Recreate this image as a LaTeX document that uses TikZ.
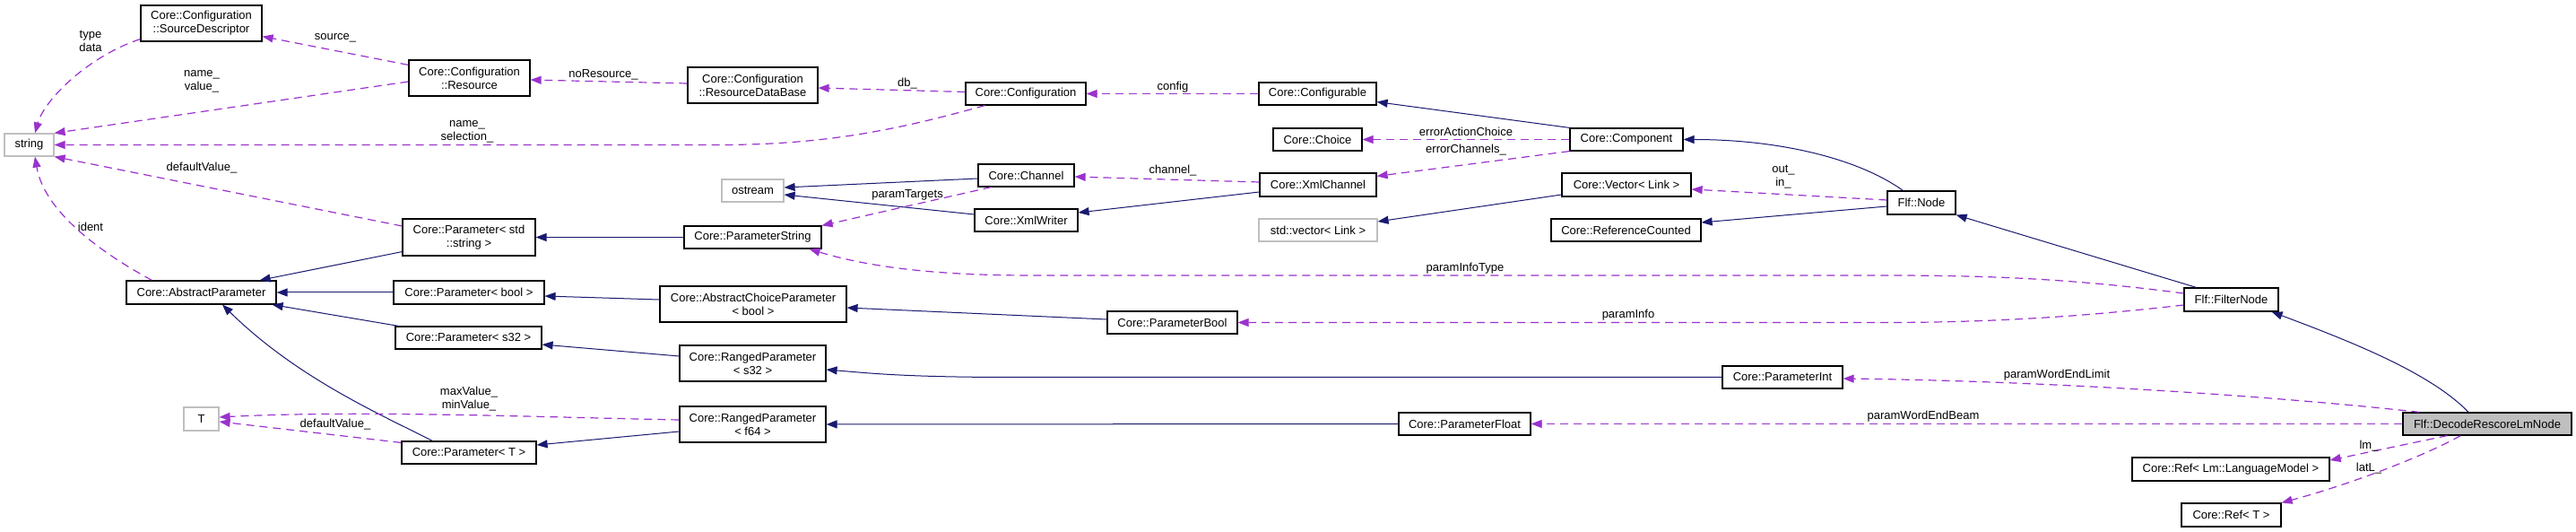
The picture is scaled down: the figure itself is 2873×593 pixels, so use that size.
\documentclass[tikz,border=0pt]{standalone}
\usepackage{fontspec}
\setmainfont{Liberation Sans}
\usetikzlibrary{arrows.meta}
\definecolor{navy}{RGB}{25,25,112}
\definecolor{orchid}{RGB}{154,50,205}
\definecolor{extgray}{RGB}{191,191,191}
\begin{document}
\begin{tikzpicture}[x=1pt,y=-1pt,
  box/.style={draw=black, fill=white, line width=1.2pt, inner sep=0pt, align=center, font=\fontsize{13}{15}\selectfont},
  ext/.style={box, draw=extgray},
  cur/.style={box, fill=extgray},
  lbl/.style={inner sep=0pt, align=center, font=\fontsize{13}{15}\selectfont},
  inh/.style={draw=navy, line width=1pt, -{Triangle[length=12pt,width=9pt]}},
  use/.style={draw=orchid, line width=1.2pt, dash pattern=on 9pt off 6pt, -{Triangle[length=12pt,width=9pt]}}]
\fill[white] (0,0) rectangle (2873,593);
\useasboundingbox (0,0) rectangle (2873,593);

% nodes
\node[ext, minimum width=55pt, minimum height=25pt] (str) at (32.5,161.5) {string};
\node[box, minimum width=135pt, minimum height=40pt] (sd) at (224.5,26) {Core::Configuration\\::SourceDescriptor};
\node[box, minimum width=135pt, minimum height=40pt] (res) at (523.5,87) {Core::Configuration\\::Resource};
\node[box, minimum width=145pt, minimum height=40pt] (rdb) at (839.5,95) {Core::Configuration\\::ResourceDataBase};
\node[box, minimum width=134pt, minimum height=25pt] (conf) at (1144,104.5) {Core::Configuration};
\node[box, minimum width=131pt, minimum height=25pt] (cfg) at (1469.5,104.5) {Core::Configurable};
\node[box, minimum width=99pt, minimum height=25pt] (choice) at (1469.5,155.5) {Core::Choice};
\node[box, minimum width=126pt, minimum height=25pt] (comp) at (1814,155.5) {Core::Component};
\node[box, minimum width=130pt, minimum height=26pt] (xmlch) at (1470,206) {Core::XmlChannel};
\node[box, minimum width=144pt, minimum height=26pt] (vec) at (1814,206) {Core::Vector< Link >};
\node[ext, minimum width=132pt, minimum height=25pt] (stdvec) at (1470,256.5) {std::vector< Link >};
\node[box, minimum width=167pt, minimum height=25pt] (refc) at (1813.5,256.5) {Core::ReferenceCounted};
\node[box, minimum width=76pt, minimum height=26pt] (fnode) at (2143,226) {Flf::Node};
\node[box, minimum width=107pt, minimum height=25pt] (channel) at (1144.5,195.5) {Core::Channel};
\node[ext, minimum width=69pt, minimum height=25pt] (ostream) at (839.5,212.5) {ostream};
\node[box, minimum width=115pt, minimum height=25pt] (xw) at (1144.5,245.5) {Core::XmlWriter};
\node[box, minimum width=153pt, minimum height=25pt] (ps) at (839.5,264.5) {Core::ParameterString};
\node[box, minimum width=148pt, minimum height=41pt] (pstr) at (523,264.5) {Core::Parameter< std\\::string >};
\node[box, minimum width=167pt, minimum height=26pt] (ap) at (224.5,326) {Core::AbstractParameter};
\node[box, minimum width=168pt, minimum height=26pt] (pb) at (523,326) {Core::Parameter< bool >};
\node[box, minimum width=163pt, minimum height=25pt] (ps32) at (522.5,376.5) {Core::Parameter< s32 >};
\node[ext, minimum width=39pt, minimum height=26pt] (T) at (224.5,467) {T};
\node[box, minimum width=150pt, minimum height=25pt] (pT) at (523,504.5) {Core::Parameter< T >};
\node[box, minimum width=208pt, minimum height=40pt] (acp) at (840,339) {Core::AbstractChoiceParameter\\< bool >};
\node[box, minimum width=145pt, minimum height=25pt] (pbool) at (1307.5,359.5) {Core::ParameterBool};
\node[box, minimum width=163pt, minimum height=40pt] (rp32) at (839.5,405) {Core::RangedParameter\\< s32 >};
\node[box, minimum width=163pt, minimum height=40pt] (rpf) at (839.5,473) {Core::RangedParameter\\< f64 >};
\node[box, minimum width=134pt, minimum height=25pt] (pint) at (1988,420.5) {Core::ParameterInt};
\node[box, minimum width=147pt, minimum height=25pt] (pf) at (1633.5,472.5) {Core::ParameterFloat};
\node[box, minimum width=105pt, minimum height=26pt] (fn) at (2488.5,334) {Flf::FilterNode};
\node[cur, minimum width=188pt, minimum height=25pt] (drln) at (2774,472.5) {Flf::DecodeRescoreLmNode};
\node[box, minimum width=220pt, minimum height=26pt] (reflm) at (2488,523) {Core::Ref< Lm::LanguageModel >};
\node[box, minimum width=111pt, minimum height=26pt] (reft) at (2488.5,574) {Core::Ref< T >};

% connectors
\draw[use] ([yshift=3pt]sd.south west) .. controls (100,62) and (50,110) .. ([xshift=6.5pt]str.north);
\draw[use] ([yshift=-6pt]res.north west) -- ([yshift=6pt]sd.south east);
\draw[use] ([yshift=-4pt]res.west) -- (str.north east);
\draw[use] ([yshift=2pt]rdb.west) -- ([yshift=-2pt]res.east);
\draw[use] ([yshift=2pt]conf.west) -- ([yshift=-3pt]rdb.east);
\draw[use] ([xshift=22pt]conf.south west) .. controls (1000,145) and (920,161.5) .. (800,161.5) -- (str.east);
\draw[use] (cfg.west) -- (conf.east);
\draw[inh] (comp.north west) -- ([yshift=4pt]cfg.south east);
\draw[use] (comp.west) -- (choice.east);
\draw[use] (comp.south west) -- ([yshift=-4pt]xmlch.north east);
\draw[use] ([yshift=3pt]xmlch.west) -- ([yshift=-1.5pt]channel.east);
\draw[inh] ([yshift=-8pt]xmlch.west) -- ([yshift=8.5pt]xw.east);
\draw[inh] ([yshift=-3.5pt]channel.west) -- ([yshift=3.5pt]ostream.east);
\draw[inh] ([yshift=6.5pt]xw.west) -- ([yshift=-4.5pt]ostream.east);
\draw[use] ([xshift=15pt]channel.south west) -- (ps.north east);
\draw[inh] (ps.west) -- (pstr.east);
\draw[use] ([yshift=12.5pt]pstr.west) -- (str.south east);
\draw[inh] ([yshift=5pt]pstr.south west) -- ([xshift=-19pt]ap.north east);
\draw[use] ([xshift=29pt]ap.north west) .. controls (95,272) and (48,228) .. ([xshift=6.5pt]str.south);
\draw[inh] (pb.west) -- (ap.east);
\draw[inh] ([xshift=4pt]ps32.north west) -- ([xshift=-5pt]ap.south east);
\draw[inh] ([xshift=35pt]pT.north west) .. controls (420,460) and (330,420) .. ([xshift=23.5pt]ap.south);
\draw[use] ([yshift=-2pt]pT.north west) -- ([yshift=-3pt]T.east);
\draw[use] ([yshift=5pt]rpf.west) .. controls (600,465) and (400,457) .. ([yshift=2pt]T.east);
\draw[inh] ([yshift=-8pt]rpf.west) -- ([yshift=8.5pt]pT.east);
\draw[inh] ([yshift=5pt]acp.west) -- ([yshift=-4pt]pb.east);
\draw[inh] ([yshift=8pt]rp32.west) -- ([yshift=-7.5pt]ps32.east);
\draw[inh] ([yshift=3.5pt]pbool.west) -- ([yshift=-4pt]acp.east);
\draw[inh] (pint.west) -- (1130,420.5) .. controls (1010,420.5) and (970,416) .. ([yshift=-7pt]rp32.east);
\draw[inh] (pf.west) -- (rpf.east);
\draw[inh] ([xshift=18pt]fnode.north west) .. controls (2070,175) and (1980,155.5) .. (comp.east);
\draw[use] ([yshift=3pt]fnode.west) -- ([yshift=-5pt]vec.east);
\draw[inh] ([yshift=-4pt]fnode.west) -- ([yshift=8.5pt]refc.east);
\draw[inh] ([yshift=-11pt]vec.west) -- ([yshift=9.5pt]stdvec.east);
\draw[inh] ([xshift=14pt]fn.north west) -- (fnode.south east);
\draw[use] ([yshift=7pt]fn.west) .. controls (2300,309) and (2200,307) .. (2100,307) -- (1150,307) .. controls (1030,307) and (960,295) .. ([xshift=-14pt]ps.south east);
\draw[use] ([yshift=-6pt]fn.west) .. controls (2330,352) and (2230,359.5) .. (2100,359.5) -- (pbool.east);
\draw[inh] ([xshift=-21pt]drln.north) .. controls (2710,415) and (2620,380) .. ([xshift=-8pt]fn.south east);
\draw[use] ([xshift=19pt]drln.north west) .. controls (2550,443) and (2300,425) .. ([yshift=-1.5pt]pint.east);
\draw[use] (drln.west) -- (pf.east);
\draw[use] ([xshift=50pt]drln.south west) -- ([yshift=10pt]reflm.east);
\draw[use] ([xshift=65pt]drln.south west) .. controls (2700,510) and (2620,540) .. (reft.north east);

% labels
\node[lbl] (l1) at (101,45.5) {type\\data};
\node[lbl] (l2) at (374,42) {source\_};
\node[lbl] (l3) at (225,90.5) {name\_\\value\_};
\node[lbl] (l4) at (673,83) {noResource\_};
\node[lbl] (l5) at (1012,93) {db\_};
\node[lbl] (l6) at (1308,97) {config};
\node[lbl] (l7) at (521,146.5) {name\_\\selection\_};
\node[lbl] (l8) at (1635,147) {errorActionChoice};
\node[lbl] (l9) at (1635,167) {errorChannels\_};
\node[lbl] (l10) at (1989,197.5) {out\_\\in\_};
\node[lbl] (l11) at (1308,190) {channel\_};
\node[lbl] (l12) at (1012,217) {paramTargets};
\node[lbl] (l13) at (225,187) {defaultValue\_};
\node[lbl] (l14) at (101,253) {ident};
\node[lbl] (l15) at (523,445) {maxValue\_\\minValue\_};
\node[lbl] (l16) at (374,473) {defaultValue\_};
\node[lbl] (l17) at (1634,299) {paramInfoType};
\node[lbl] (l18) at (1816,351) {paramInfo};
\node[lbl] (l19) at (2294,418) {paramWordEndLimit};
\node[lbl] (l20) at (2145,464) {paramWordEndBeam};
\node[lbl] (l21) at (2642,497) {lm\_};
\node[lbl] (l22) at (2642,522) {latL\_};
\end{tikzpicture}
\end{document}
